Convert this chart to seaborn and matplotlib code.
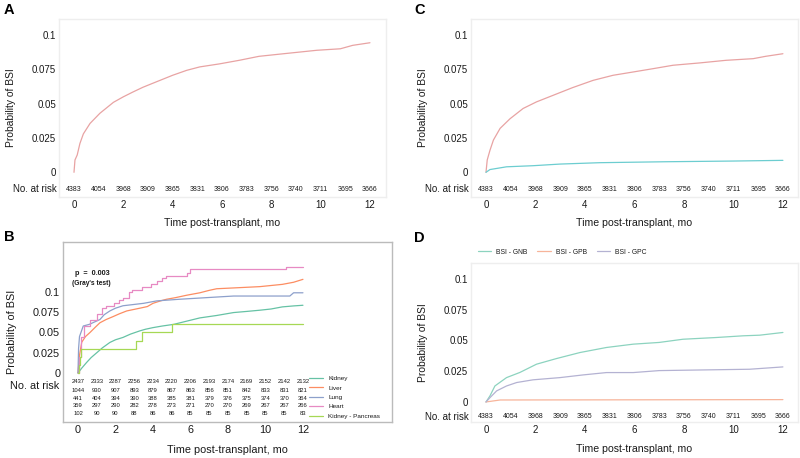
import numpy as np
import pandas as pd
import matplotlib
matplotlib.use("Agg")
import matplotlib.pyplot as plt
import matplotlib.transforms as mtransforms
from matplotlib.lines import Line2D
import seaborn as sns

# ---------------- data ----------------
months = list(range(13))
yticks = [0, 0.025, 0.05, 0.075, 0.1]
ytick_labels = ["0", "0.025", "0.05", "0.075", "0.1"]
xticks = [0, 2, 4, 6, 8, 10, 12]

risk_all = [4383, 4054, 3968, 3909, 3865, 3831, 3806, 3783, 3756, 3740, 3711, 3695, 3666]

# Panel A: all BSI
a_t = [0, 0.04, 0.13, 0.24, 0.38, 0.65, 1.05, 1.6, 2.0, 2.4, 2.8, 3.35, 4.0, 4.57, 5.1,
       5.9, 6.7, 7.5, 8.5, 9.2, 9.84, 10.8, 11.3, 12]
a_y = [0, 0.009, 0.0126, 0.021, 0.028, 0.0356, 0.043, 0.051, 0.055, 0.0586, 0.062, 0.066,
       0.0707, 0.0743, 0.0768, 0.079, 0.0816, 0.0845, 0.0864, 0.0877, 0.0889, 0.090, 0.0925, 0.0944]

# Panel C: two series
c1_t = [0, 0.05, 0.16, 0.3, 0.57, 0.97, 1.5, 2.04, 2.7, 3.5, 4.33, 5.14, 5.95, 6.75, 7.56,
        8.64, 9.7, 10.8, 11.3, 12]
c1_y = [0, 0.009, 0.016, 0.0235, 0.032, 0.039, 0.0465, 0.0513, 0.056, 0.0617, 0.067, 0.0707,
        0.0731, 0.0755, 0.078, 0.0797, 0.0816, 0.0828, 0.0845, 0.0864]
c2_t = [0, 0.16, 0.83, 1.9, 3.0, 4.6, 7.3, 10.0, 12]
c2_y = [0, 0.002, 0.004, 0.0048, 0.006, 0.007, 0.0077, 0.0082, 0.0087]

# Panel B: by organ
organs = ["Kidney", "Liver", "Lung", "Heart", "Kidney - Pancreas"]
kidney_t = [0, 0.2, 0.46, 0.7, 1.0, 1.3, 1.7, 2.0, 2.4, 2.8, 3.3, 3.6, 4.0, 4.5, 5.1, 5.8, 6.5,
            7.4, 8.3, 9.0, 9.7, 10.3, 10.9, 11.5, 12]
kidney_y = [0, 0.006, 0.013, 0.019, 0.025, 0.031, 0.0377, 0.041, 0.0439, 0.048, 0.052, 0.054,
            0.056, 0.058, 0.060, 0.064, 0.068, 0.071, 0.0746, 0.076, 0.0775, 0.079, 0.0816,
            0.0828, 0.0836]
liver_t = [0, 0.08, 0.2, 0.4, 0.64, 0.9, 1.17, 1.5, 1.88, 2.2, 2.6, 3.3, 3.7, 4.0, 4.4, 4.72,
           5.2, 5.8, 6.5, 7.0, 7.4, 8.3, 9.7, 10.9, 11.5, 12]
liver_y = [0, 0.022, 0.038, 0.045, 0.050, 0.056, 0.062, 0.066, 0.0697, 0.073, 0.0766, 0.080,
           0.082, 0.086, 0.089, 0.091, 0.093, 0.096, 0.099, 0.102, 0.104, 0.105, 0.1066, 0.1094,
           0.112, 0.1156]
lung_t = [0, 0.03, 0.08, 0.28, 0.6, 1.17, 1.4, 1.7, 2.0, 2.4, 3.5, 4.2, 5.4, 6.85, 8.3, 11.3, 11.5, 12]
lung_y = [0, 0.030, 0.045, 0.058, 0.060, 0.066, 0.072, 0.0766, 0.080, 0.083, 0.086, 0.089, 0.091,
          0.093, 0.095, 0.095, 0.099, 0.099]
heart_t = [0, 0.05, 0.15, 0.3, 0.64, 1.0, 1.3, 1.5, 1.9, 2.2, 2.4, 2.7, 2.9, 3.4, 3.9, 4.2,
           4.5, 4.7, 5.8, 6.0, 11.1, 12]
heart_y = [0, 0.02, 0.045, 0.058, 0.066, 0.0725, 0.080, 0.083, 0.087, 0.090, 0.093, 0.100, 0.103,
           0.106, 0.110, 0.113, 0.117, 0.120, 0.124, 0.128, 0.131, 0.131]
kp_t = [0, 0.05, 0.1, 0.15, 3.12, 3.4, 5.04, 12]
kp_y = [0, 0.01, 0.02, 0.03, 0.04, 0.05, 0.06, 0.06]

risk_kidney = [2437, 2333, 2287, 2256, 2234, 2220, 2206, 2193, 2174, 2169, 2152, 2142, 2132]
risk_liver = [1044, 930, 907, 893, 879, 867, 863, 856, 851, 842, 833, 831, 821]
risk_lung = [441, 404, 394, 390, 388, 385, 381, 379, 376, 375, 374, 370, 364]
risk_heart = [359, 297, 290, 282, 278, 273, 271, 270, 270, 269, 267, 267, 266]
risk_kp = [102, 90, 90, 88, 86, 86, 85, 85, 85, 85, 85, 85, 83]

# Panel D: by organism group
d_groups = ["BSI - GNB", "BSI - GPB", "BSI - GPC"]
gnb_t = [0, 0.16, 0.36, 0.83, 1.37, 2.04, 2.85, 3.8, 4.87, 5.95, 7.0, 7.96, 9.3, 10.4, 11.06, 12]
gnb_y = [0, 0.0049, 0.013, 0.0198, 0.024, 0.0307, 0.0353, 0.0402, 0.0443, 0.047, 0.0484, 0.051,
         0.0524, 0.0538, 0.0543, 0.0565]
gpb_t = [0, 0.57, 12]
gpb_y = [0, 0.0016, 0.0019]
gpc_t = [0, 0.16, 0.43, 0.83, 1.24, 1.9, 2.99, 3.93, 4.87, 5.95, 7.0, 8.64, 10.65, 12]
gpc_y = [0, 0.0035, 0.009, 0.013, 0.0158, 0.018, 0.0198, 0.022, 0.0239, 0.0239, 0.0255, 0.026,
         0.0266, 0.0285]

# ---------------- style ----------------
sns.set_theme(style="white")
plt.rcParams["font.family"] = ["Liberation Sans", "DejaVu Sans"]
TXT = "#1a1a1a"

W, H = 800, 458
fig = plt.figure(figsize=(8, 4.58), dpi=100)
fig.patch.set_facecolor("white")


def add_ax(l, r, t, b):
    return fig.add_axes([l / W, (H - b) / H, (r - l) / W, (b - t) / H])


def style_ax(ax, xlim, ylim, frame_color, frame_lw, tick_fs, xlab_y, ylab_x):
    ax.set_xlim(*xlim)
    ax.set_ylim(*ylim)
    ax.set_xticks(xticks)
    ax.set_xticklabels([str(v) for v in xticks], fontsize=tick_fs, color=TXT)
    ax.set_yticks(yticks)
    ax.set_yticklabels(ytick_labels, fontsize=tick_fs, color=TXT)
    ax.tick_params(length=0, pad=2)
    for s in ax.spines.values():
        s.set_color(frame_color)
        s.set_linewidth(frame_lw)
    ax.set_xlabel("Time post-transplant, mo", fontsize=7.6, color=TXT)
    ax.set_ylabel("Probability of BSI", fontsize=7.4, color=TXT)
    ax.xaxis.set_label_coords(0.5, xlab_y)
    ax.xaxis.label.set_va("center")
    ax.yaxis.set_label_coords(ylab_x, 0.5)
    ax.yaxis.label.set_va("center")
    if ax.get_legend() is not None:
        ax.get_legend().remove()


def risk_row(ax, values, y, fs):
    for m, v in zip(months, values):
        ax.text(m, y, str(v), ha="center", va="center", fontsize=fs, color=TXT)


def risk_label(ax, y, fs, dx_px):
    tr = mtransforms.blended_transform_factory(ax.transAxes, ax.transData)
    tr = tr + mtransforms.ScaledTranslation(-dx_px / 100, 0, fig.dpi_scale_trans)
    ax.text(0, y, "No. at risk", ha="right", va="center", fontsize=fs, color=TXT, transform=tr)


pink = "#E8A3A3"

# ---------------- Panel A ----------------
axA = add_ax(59, 386, 19, 197)
dfA = pd.DataFrame({"t": a_t, "p": a_y})
sns.lineplot(data=dfA, x="t", y="p", ax=axA, color=pink, lw=0.9, estimator=None, sort=False)
style_ax(axA, (-0.608, 12.65), (-0.018, 0.1117), "#EEEEEE", 1.0, 7.0,
         -(223 - 197) / 178, (11 - 59) / 327)
risk_row(axA, risk_all, -0.0124, 5.0)
risk_label(axA, -0.0124, 7.0, 2)

# ---------------- Panel C ----------------
axC = add_ax(471, 798, 19, 197)
dfC = pd.concat([
    pd.DataFrame({"t": c1_t, "p": c1_y, "g": "pink"}),
    pd.DataFrame({"t": c2_t, "p": c2_y, "g": "teal"}),
])
sns.lineplot(data=dfC, x="t", y="p", hue="g", palette={"pink": pink, "teal": "#6CCDD0"},
             ax=axC, lw=0.9, estimator=None, sort=False)
style_ax(axC, (-0.606, 12.61), (-0.018, 0.1117), "#EEEEEE", 1.0, 7.0,
         -(223 - 197) / 178, (423 - 471) / 327)
risk_row(axC, risk_all, -0.0124, 5.0)
risk_label(axC, -0.0124, 7.0, 2)

# ---------------- Panel B ----------------
axB = add_ax(63, 392, 242, 422)
set2 = ["#66C2A5", "#FC8D62", "#8DA0CB", "#E78AC3", "#A6D854"]
pal_B = dict(zip(organs, set2))
smooth_B = pd.concat([
    pd.DataFrame({"t": kidney_t, "p": kidney_y, "organ": organs[0]}),
    pd.DataFrame({"t": liver_t, "p": liver_y, "organ": organs[1]}),
    pd.DataFrame({"t": lung_t, "p": lung_y, "organ": organs[2]}),
])
step_B = pd.concat([
    pd.DataFrame({"t": heart_t, "p": heart_y, "organ": organs[3]}),
    pd.DataFrame({"t": kp_t, "p": kp_y, "organ": organs[4]}),
])
sns.lineplot(data=smooth_B, x="t", y="p", hue="organ", hue_order=organs[:3], palette=pal_B,
             ax=axB, lw=0.9, estimator=None, sort=False)
sns.lineplot(data=step_B, x="t", y="p", hue="organ", hue_order=organs[3:], palette=pal_B,
             ax=axB, lw=0.9, estimator=None, sort=False, drawstyle="steps-post")
style_ax(axB, (-0.8, 16.75), (-0.0605, 0.1617), "#BBBBBB", 1.0, 7.8,
         -(450 - 422) / 180, (12 - 63) / 329)
axB.xaxis.label.set_fontsize(7.8)
axB.yaxis.label.set_fontsize(7.8)
risk_rows_B = [risk_kidney, risk_liver, risk_lung, risk_heart, risk_kp]
row_y_B = [-0.0111, -0.0210, -0.0309, -0.0407, -0.0506]
for vals, yy in zip(risk_rows_B, row_y_B):
    risk_row(axB, vals, yy, 4.2)
risk_label(axB, -0.016, 7.8, 4)
axB.text(0.75, 0.123, "p  =  0.003", ha="center", va="center", fontsize=5.2,
         fontweight="bold", color=TXT)
axB.text(0.72, 0.110, "(Gray's test)", ha="center", va="center", fontsize=4.8,
         fontweight="bold", color=TXT)
handles_B = [Line2D([], [], color=pal_B[o], lw=0.9) for o in organs]
legB = axB.legend(handles_B, organs, loc="upper left", bbox_to_anchor=(0.74, 0.272),
                  frameon=False, fontsize=4.6, handlelength=2.2, handletextpad=0.8,
                  labelspacing=0.62, borderaxespad=0)
for t in legB.get_texts():
    t.set_color(TXT)

# ---------------- Panel D ----------------
axD = add_ax(471, 798, 263, 422)
pal_D = dict(zip(d_groups, ["#8CD3BF", "#F7B49A", "#B4B2D2"]))
dfD = pd.concat([
    pd.DataFrame({"t": gnb_t, "p": gnb_y, "grp": d_groups[0]}),
    pd.DataFrame({"t": gpb_t, "p": gpb_y, "grp": d_groups[1]}),
    pd.DataFrame({"t": gpc_t, "p": gpc_y, "grp": d_groups[2]}),
])
sns.lineplot(data=dfD, x="t", y="p", hue="grp", hue_order=d_groups, palette=pal_D, ax=axD,
             lw=0.9, estimator=None, sort=False)
style_ax(axD, (-0.606, 12.61), (-0.0163, 0.113), "#EEEEEE", 1.0, 7.0,
         -(449 - 422) / 159, (423 - 471) / 327)
risk_row(axD, risk_all, -0.0122, 5.0)
risk_label(axD, -0.0122, 7.0, 2)
handles_D = [Line2D([], [], color=pal_D[g], lw=0.9) for g in d_groups]
legD = axD.legend(handles_D, d_groups, loc="lower left", bbox_to_anchor=(0.012, 1.03),
                  ncol=3, frameon=False, fontsize=4.9, handlelength=2.0, handletextpad=0.75,
                  columnspacing=1.4, borderaxespad=0)
for t in legD.get_texts():
    t.set_color(TXT)

# ---------------- panel letters ----------------
for letter, x, y in [("A", 4, 10), ("C", 414, 10), ("B", 4, 237), ("D", 414, 238)]:
    fig.text(x / W, 1 - y / H, letter, fontsize=10.5, fontweight="bold", ha="left",
             va="center", color="black")

fig.savefig("out.png", dpi=100, facecolor="white")
